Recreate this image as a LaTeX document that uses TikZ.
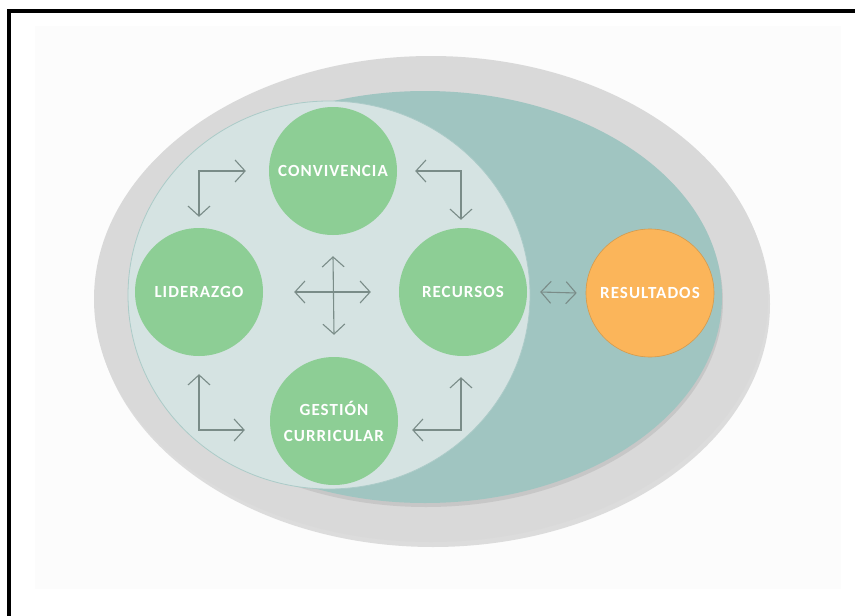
\documentclass[tikz,border=0pt]{standalone}
\usepackage{fontspec}
\usetikzlibrary{arrows.meta,shadows}
\newfontfamily\tagfont[LetterSpace=6]{Carlito}
\definecolor{panelbg}{HTML}{FCFCFC}
\definecolor{outergrey}{HTML}{D9D9D9}
\definecolor{tealfill}{HTML}{A0C5C1}
\definecolor{innerfill}{HTML}{D5E3E2}
\definecolor{areagreen}{HTML}{8DCE95}
\definecolor{resorange}{HTML}{FBB55A}
\definecolor{linkgrey}{HTML}{7A8C88}
\begin{document}
\begin{tikzpicture}[x=1pt,y=-1pt,
    area/.style={circle,fill=areagreen,minimum size=128pt,inner sep=0pt,
      text=white,align=center,font=\tagfont\bfseries\fontsize{17}{26}\selectfont},
    result/.style={area,fill=resorange,draw=resorange!85!black,line width=0.6pt},
    link/.style={draw=linkgrey,line width=1.1pt,
      {Straight Barb[length=10pt,width=22pt]}-{Straight Barb[length=10pt,width=22pt]}}]
  \useasboundingbox (0,0) rectangle (855,616);
  \fill[white] (0,0) rectangle (855,616);
  \fill[panelbg] (35,26) rectangle (841,589);
  \draw[line width=4pt] (9,616) -- (9,11) -- (855,11);
  \fill[outergrey,drop shadow={shadow xshift=2pt,shadow yshift=-5pt,opacity=0.25}]
    (431,299) ellipse [x radius=337, y radius=243];
  \fill[tealfill,drop shadow={shadow xshift=1pt,shadow yshift=-4pt,opacity=0.2}]
    (425,297) ellipse [x radius=297, y radius=206];
  \filldraw[fill=innerfill,draw=tealfill!80!innerfill,line width=0.8pt]
    (329,295) ellipse [x radius=201, y radius=194];
  \node[area] (conv) at (333,171) {CONVIVENCIA};
  \node[area] (lid) at (199,292) {LIDERAZGO};
  \node[area] (rec) at (463,292) {RECURSOS};
  \node[area] (gest) at (334,421) {GESTIÓN\\CURRICULAR};
  \node[result] (res) at (650,293) {RESULTADOS};
  \draw[link] ([xshift=-23pt]conv.west) -| ([yshift=11pt]lid.north);
  \draw[link] ([xshift=18pt]conv.east) -| ([xshift=-2pt,yshift=8pt]rec.north);
  \draw[link] ([yshift=-18pt]lid.south) |- ([xshift=-25pt,yshift=-9pt]gest.west);
  \draw[link] ([xshift=-2pt,yshift=-21pt]rec.south) |- ([xshift=14pt,yshift=-9pt]gest.east);
  \draw[link] ([xshift=31pt]lid.east) -- ([xshift=-28pt]rec.west);
  \draw[link] ([yshift=-21pt]conv.south) -- ([yshift=22pt]gest.north);
  \draw[link] ([xshift=13pt]rec.east) -- ([xshift=-9pt]res.west);
\end{tikzpicture}
\end{document}
